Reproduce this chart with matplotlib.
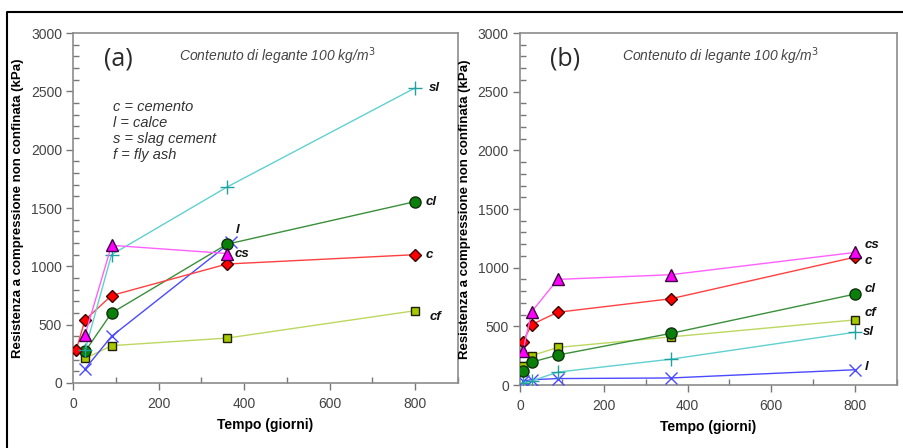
import matplotlib
matplotlib.use("Agg")
import matplotlib.pyplot as plt
from matplotlib.lines import Line2D
from matplotlib.ticker import MultipleLocator

plt.rcParams['font.family'] = ['Liberation Sans', 'DejaVu Sans']

# curing times (days)
days = [7, 28, 90, 360, 800]
days_late = [28, 90, 360, 800]
days_cs_a = [28, 90, 360]
days_l_a = [28, 90, 370]

# (a) strength values, kPa
a_c = [280, 540, 750, 1020, 1100]
a_cl = [270, 600, 1190, 1555]
a_cf = [210, 320, 385, 620]
a_sl = [280, 1100, 1680, 2530]
a_cs = [410, 1180, 1110]
a_l = [120, 400, 1210]

# (b) strength values, kPa
b_cs = [290, 625, 900, 940, 1130]
b_c = [370, 515, 620, 735, 1090]
b_cl = [120, 195, 255, 440, 775]
b_cf = [165, 250, 320, 410, 555]
b_sl = [15, 35, 110, 220, 450]
b_l = [35, 45, 55, 60, 130]

legend_lines = ['c = cemento', 'l = calce', 's = slag cement', 'f = fly ash']

# line colour, marker, face colour, edge colour, size
styles = {
    'c':  ('#ff4040', 'D', '#ff0000', '#400000', 6),
    'cl': ('#3a8f3a', 'o', '#0a800a', '#103010', 8),
    'cf': ('#bcd860', 's', '#a8c800', '#202000', 6),
    'sl': ('#60d0d0', '+', '#20a0a0', '#20a0a0', 10),
    'cs': ('#ff60ff', '^', '#ff00ff', '#400040', 8),
    'l':  ('#4a4aff', 'x', '#4a4aff', '#4a4aff', 8),
}


def draw_series(ax, name, x, y, offset):
    lc, mk, fc, ec, ms = styles[name]
    ax.plot(x, y, color=lc, lw=1.0, marker=mk, markersize=ms,
            markerfacecolor=fc, markeredgecolor=ec, markeredgewidth=1.0,
            zorder=3)
    ax.annotate(name, (x[-1], y[-1]), xytext=offset, textcoords='offset pixels',
                ha='left', va='center', fontsize=9.5, fontweight='bold',
                fontstyle='italic', color='#111111')


def setup_axes(ax, tag):
    ax.set_xlim(0, 900)
    ax.set_ylim(0, 3000)
    ax.xaxis.set_major_locator(MultipleLocator(200))
    ax.xaxis.set_minor_locator(MultipleLocator(100))
    ax.yaxis.set_major_locator(MultipleLocator(500))
    ax.yaxis.set_minor_locator(MultipleLocator(100))
    ax.set_xticks([0, 200, 400, 600, 800])
    ax.tick_params(which='major', direction='out', length=5, width=1,
                   color='#777777', labelsize=10, labelcolor='#444444', pad=3)
    ax.tick_params(axis='x', which='major', pad=5)
    ax.tick_params(which='minor', direction='in', length=4, width=1,
                   color='#777777')
    for s in ax.spines.values():
        s.set_color('#8c8c8c')
        s.set_linewidth(1.2)
    ax.set_xlabel('Tempo (giorni)', fontsize=10, fontweight='bold', labelpad=5)
    ax.set_ylabel('Resistenza a compressione non confinata (kPa)', fontsize=9.5,
                  fontweight='bold', labelpad=5)
    ax.text(0.08, 0.925, tag, transform=ax.transAxes, fontsize=18,
            family=['Open Sans', 'DejaVu Sans'], color='#2a2a2a',
            ha='left', va='center')
    ax.text(0.53, 0.935, 'Contenuto di legante 100 kg/m$^3$',
            transform=ax.transAxes, fontsize=10, fontstyle='italic',
            color='#444444', ha='center', va='center')


fig = plt.figure(figsize=(9.04, 4.48), dpi=100)
ax_a = fig.add_axes([0.0808, 0.1451, 0.4259, 0.7812])
ax_b = fig.add_axes([0.5752, 0.1406, 0.4170, 0.7857])

setup_axes(ax_a, '(a)')
setup_axes(ax_b, '(b)')
ax_a.text(0.104, 0.81, '\n'.join(legend_lines), transform=ax_a.transAxes,
          fontsize=10.5, fontstyle='italic', color='#333333', ha='left',
          va='top', linespacing=1.2)

draw_series(ax_a, 'cf', days_late, a_cf, (14, -6))
draw_series(ax_a, 'l', days_l_a, a_l, (4, 12))
draw_series(ax_a, 'cl', days_late, a_cl, (10, 0))
draw_series(ax_a, 'c', days, a_c, (10, 0))
draw_series(ax_a, 'sl', days_late, a_sl, (14, 0))
draw_series(ax_a, 'cs', days_cs_a, a_cs, (8, 0))

draw_series(ax_b, 'l', days, b_l, (10, 3))
draw_series(ax_b, 'sl', days, b_sl, (8, 0))
draw_series(ax_b, 'cf', days, b_cf, (10, 7))
draw_series(ax_b, 'cl', days, b_cl, (10, 5))
draw_series(ax_b, 'c', days, b_c, (10, -4))
draw_series(ax_b, 'cs', days, b_cs, (10, 7))

# outer frame, open to the right and bottom
fig.add_artist(Line2D([7 / 904, 7 / 904, 1.0], [0.0, 1 - 12 / 448, 1 - 12 / 448],
                      transform=fig.transFigure, color='black', lw=1.5))

fig.savefig('out.png', dpi=100)
